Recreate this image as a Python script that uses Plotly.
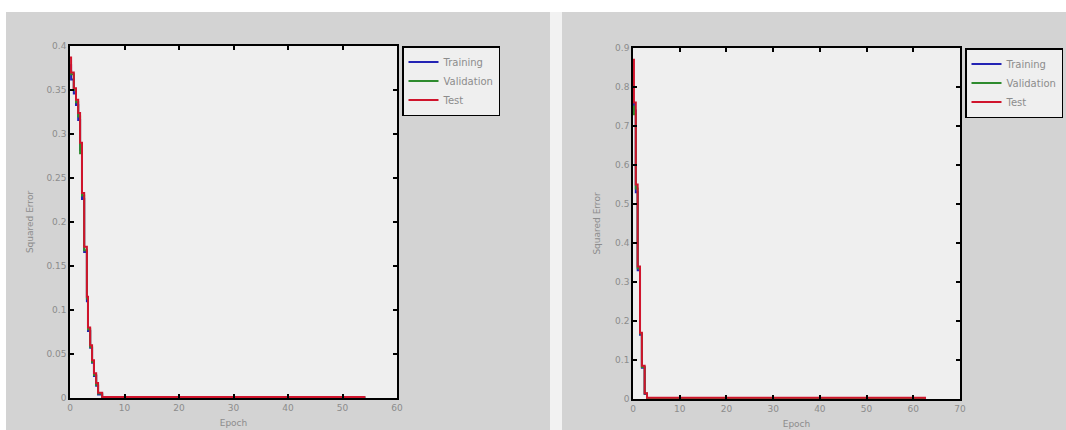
import plotly.graph_objects as go

# ---- Left chart data (staircase, epochs vs squared error) ----
left_epochs = [0, 0.2, 0.7, 1.1, 1.5, 1.85, 2.2, 2.6, 3.1, 3.3, 3.7, 4.05, 4.4, 4.8, 5.15, 5.9, 54]
left_training = [0.378, 0.362, 0.346, 0.333, 0.316, 0.282, 0.226, 0.166, 0.11, 0.076, 0.057, 0.04, 0.025, 0.014, 0.004, 0.0005, 0.0]
left_validation = [0.372, 0.368, 0.35, 0.336, 0.32, 0.278, 0.23, 0.168, 0.113, 0.078, 0.058, 0.041, 0.026, 0.015, 0.005, 0.0008, 0.0]
left_test = [0.387, 0.37, 0.352, 0.339, 0.324, 0.29, 0.233, 0.172, 0.115, 0.08, 0.06, 0.043, 0.028, 0.017, 0.006, 0.001, 0.0]

# ---- Right chart data ----
right_epochs = [0, 0.2, 0.6, 1.0, 1.5, 1.9, 2.5, 3.0, 62.5]
right_training = [0.76, 0.74, 0.53, 0.33, 0.165, 0.08, 0.013, 0.002, 0.0]
right_validation = [0.75, 0.73, 0.54, 0.335, 0.168, 0.082, 0.014, 0.002, 0.0]
right_test = [0.87, 0.76, 0.55, 0.34, 0.17, 0.085, 0.015, 0.003, 0.0]

series_names = ["Training", "Validation", "Test"]
series_colors = ["#2323b4", "#2e8b2e", "#d0142c"]

left_ticks_x = [0, 10, 20, 30, 40, 50, 60]
right_ticks_x = [0, 10, 20, 30, 40, 50, 60, 70]

W, H = 1066, 430
fig = go.Figure()

for name, color, ys in zip(series_names, series_colors, [left_training, left_validation, left_test]):
    fig.add_trace(go.Scatter(x=left_epochs, y=ys, mode="lines", name=name,
                             line=dict(color=color, width=2, shape="hv"),
                             xaxis="x", yaxis="y", legend="legend"))
for name, color, ys in zip(series_names, series_colors, [right_training, right_validation, right_test]):
    fig.add_trace(go.Scatter(x=right_epochs, y=ys, mode="lines", name=name,
                             line=dict(color=color, width=2, shape="hv"),
                             xaxis="x2", yaxis="y2", legend="legend2"))

def px_x(p):
    return p / W

def px_y(p):
    return (H - p) / H

panel_gray = "#d3d3d3"
plot_bg = "#efefef"
shapes = [
    # white band at the top and thin white strip at left
    dict(type="rect", xref="paper", yref="paper", x0=0, x1=1, y0=px_y(12), y1=1,
         fillcolor="white", line=dict(width=0), layer="below"),
    dict(type="rect", xref="paper", yref="paper", x0=0, x1=px_x(6), y0=0, y1=1,
         fillcolor="white", line=dict(width=0), layer="below"),
    # light gap between the two panels
    dict(type="rect", xref="paper", yref="paper", x0=px_x(550), x1=px_x(562), y0=0, y1=px_y(12),
         fillcolor="#f2f2f2", line=dict(width=0), layer="below"),
    # plot area backgrounds
    dict(type="rect", xref="x domain", yref="y domain", x0=0, x1=1, y0=0, y1=1,
         fillcolor=plot_bg, line=dict(width=0), layer="below"),
    dict(type="rect", xref="x2 domain", yref="y2 domain", x0=0, x1=1, y0=0, y1=1,
         fillcolor=plot_bg, line=dict(width=0), layer="below"),
]

tickfont = dict(family="DejaVu Sans", size=9, color="#8c8c8c")
titlefont = dict(family="DejaVu Sans", size=9, color="#8c8c8c")

axis_common = dict(showline=True, linecolor="black", linewidth=1.5, mirror="ticks",
                   ticks="inside", ticklen=4, tickcolor="black", tickwidth=1.5,
                   showgrid=False, zeroline=False, tickfont=tickfont, automargin=False)

legend_common = dict(bgcolor=plot_bg, bordercolor="black", borderwidth=1.5,
                     font=dict(family="DejaVu Sans", size=10, color="#8c8c8c"),
                     xanchor="left", yanchor="top", tracegroupgap=0, itemwidth=30)

fig.update_layout(
    width=W, height=H,
    margin=dict(l=0, r=0, t=0, b=0, pad=0, autoexpand=False),
    paper_bgcolor=panel_gray,
    plot_bgcolor=plot_bg,
    shapes=shapes,
    xaxis=dict(domain=[px_x(70), px_x(397)], range=[0, 60], tickvals=left_ticks_x,
               title=dict(text="Epoch", font=titlefont, standoff=8), anchor="y", **axis_common),
    yaxis=dict(domain=[px_y(398), px_y(46)], range=[0, 0.4], dtick=0.05,
               title=dict(text="Squared Error", font=titlefont, standoff=11), anchor="x", **axis_common),
    xaxis2=dict(domain=[px_x(633), px_x(960)], range=[0, 70], tickvals=right_ticks_x,
                title=dict(text="Epoch", font=titlefont, standoff=8), anchor="y2", **axis_common),
    yaxis2=dict(domain=[px_y(399), px_y(48)], range=[0, 0.9], dtick=0.1,
                title=dict(text="Squared Error", font=titlefont, standoff=13), anchor="x2", **axis_common),
    legend=dict(x=px_x(402), y=px_y(46), **legend_common),
    legend2=dict(x=px_x(965), y=px_y(48), **legend_common),
    showlegend=True,
)

fig.write_html("out.html",
               config={"displayModeBar": False},
               post_script="document.body.style.margin='0';document.body.style.overflow='hidden';")
